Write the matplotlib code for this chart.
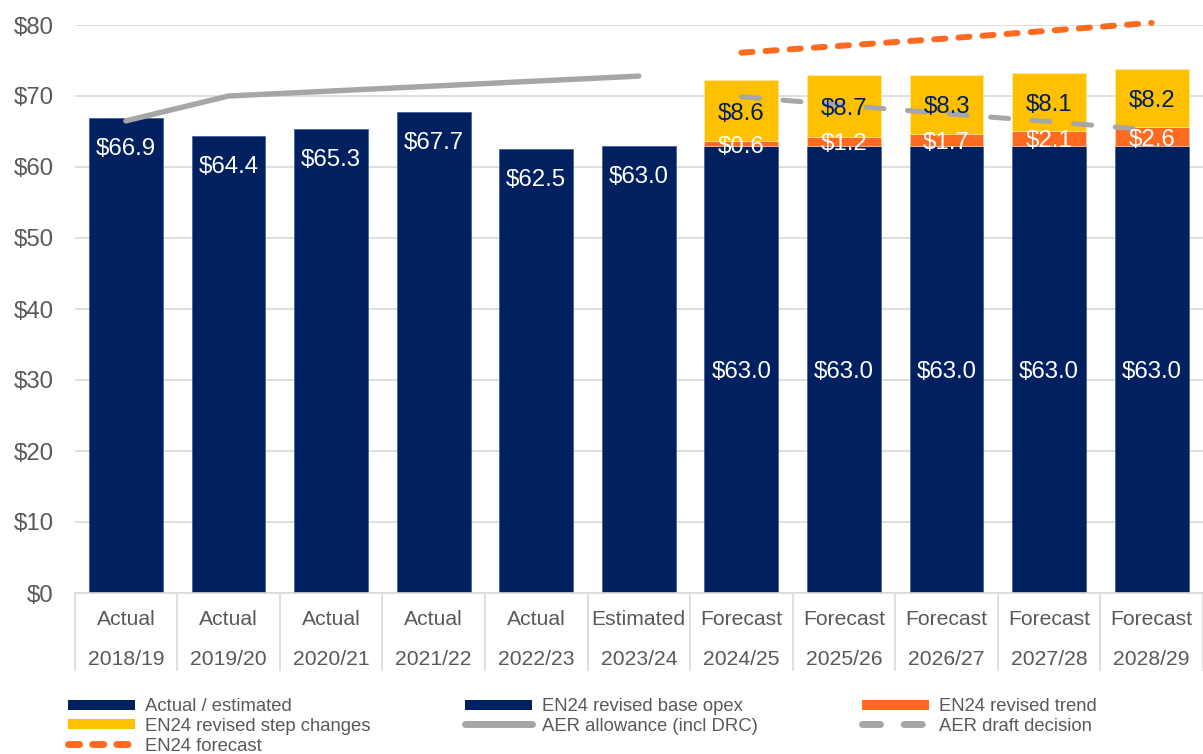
import matplotlib
matplotlib.use("Agg")
import matplotlib.pyplot as plt
from matplotlib.lines import Line2D
import numpy as np

plt.rcParams["font.family"] = ["Liberation Sans", "DejaVu Sans"]
plt.rcParams["lines.scale_dashes"] = False

# ---- data ($m) ----
kinds = ["Actual", "Actual", "Actual", "Actual", "Actual", "Estimated",
         "Forecast", "Forecast", "Forecast", "Forecast", "Forecast"]
years = ["2018/19", "2019/20", "2020/21", "2021/22", "2022/23", "2023/24",
         "2024/25", "2025/26", "2026/27", "2027/28", "2028/29"]
actual_estimated = [66.9, 64.4, 65.3, 67.7, 62.5, 63.0]
base_opex = [63.0, 63.0, 63.0, 63.0, 63.0]
revised_trend = [0.6, 1.2, 1.7, 2.1, 2.6]
step_changes = [8.6, 8.7, 8.3, 8.1, 8.2]
aer_allowance = [66.5, 70.0, 70.7, 71.4, 72.1, 72.8]
aer_draft = [69.9, 68.7, 67.5, 66.4, 65.2]
en24_forecast = [76.1, 77.1, 78.1, 79.2, 80.3]

NAVY = "#002060"
ORANGE = "#FF6A21"
YELLOW = "#FFC000"
GREY = "#A6A6A6"
TEXT = "#595959"
GRID = "#D9D9D9"

fig = plt.figure(figsize=(12.03, 7.54), dpi=100)
ax = fig.add_axes([74.6 / 1203, 1 - 593 / 754, 1 - 74.6 / 1203, (593 - 25) / 754])

x = np.arange(len(years))
xa = x[:len(actual_estimated)]
xf = x[len(actual_estimated):]
w = 0.72

ax.bar(xa, actual_estimated, w, color=NAVY, edgecolor="#3A5A99", linewidth=0.5, zorder=2)
ax.bar(xf, base_opex, w, color=NAVY, edgecolor="#3A5A99", linewidth=0.5, zorder=2)
ax.bar(xf, revised_trend, w, bottom=base_opex, color=ORANGE, edgecolor="#FFD0B0",
       linewidth=0.5, zorder=2)
step_bottom = np.array(base_opex) + np.array(revised_trend)
ax.bar(xf, step_changes, w, bottom=step_bottom, color=YELLOW, edgecolor="#FFE8A0",
       linewidth=0.5, zorder=2)

# lines
ax.plot(xa, aer_allowance, color=GREY, lw=3.9, solid_capstyle="round", zorder=3,
        clip_on=False)
ax.plot(xf, aer_draft, color=GREY, lw=3.6, dashes=(13, 17), dash_capstyle="round",
        zorder=3, clip_on=False)
ax.plot(xf, en24_forecast, color=ORANGE, lw=4.3, dashes=(8, 9.4), dash_capstyle="round",
        zorder=3, clip_on=False)

# value labels (nudged slightly below the nominal position)
lab_fs = 17.3
nudge = -2.2
for xi, v in zip(xa, actual_estimated):
    ax.annotate(f"${v:.1f}", (xi, v), xytext=(0, -20 + nudge), textcoords="offset points",
                ha="center", va="center", color="white", fontsize=lab_fs, zorder=4)
for xi, b, t, s in zip(xf, base_opex, revised_trend, step_changes):
    ax.annotate(f"${b:.1f}", (xi, b / 2), xytext=(0, nudge), textcoords="offset points",
                ha="center", va="center", color="white", fontsize=lab_fs, zorder=4)
    ax.annotate(f"${t:.1f}", (xi, b + t / 2), xytext=(0, nudge), textcoords="offset points",
                ha="center", va="center", color="white", fontsize=lab_fs, zorder=4)
    ax.annotate(f"${s:.1f}", (xi, b + t + s / 2), xytext=(0, nudge),
                textcoords="offset points", ha="center", va="center", color=NAVY,
                fontsize=lab_fs, zorder=4)

# axes styling
ax.set_xlim(-0.5, len(years) - 0.5)
ax.set_ylim(0, 80)
ax.set_yticks(np.arange(0, 81, 10))
ax.set_yticklabels([f"${t}" for t in range(0, 81, 10)])
ax.tick_params(axis="y", length=0, pad=15, labelsize=17.3, labelcolor=TEXT)
ax.set_xticks([])
ax.grid(axis="y", color=GRID, lw=1.2, zorder=0)
ax.set_axisbelow(True)
for side in ["top", "right", "left"]:
    ax.spines[side].set_visible(False)
ax.spines["bottom"].set_color(GRID)
ax.spines["bottom"].set_linewidth(1.2)

# two-row category labels with separators
sep_depth = 77 / 568
for i in range(len(years) + 1):
    ax.plot([i - 0.5, i - 0.5], [0, -sep_depth], color=GRID, lw=1.2,
            transform=ax.get_xaxis_transform(), clip_on=False)
for xi, k, yr in zip(x, kinds, years):
    ax.annotate(k, (xi, 0), xycoords=("data", "axes fraction"), xytext=(0, -19.3),
                textcoords="offset points", ha="center", va="center", fontsize=15.2,
                color=TEXT)
    ax.annotate(yr, (xi, 0), xycoords=("data", "axes fraction"), xytext=(0, -47.6),
                textcoords="offset points", ha="center", va="center", fontsize=15.2,
                color=TEXT)

# legend in three columns
h_actual = Line2D([], [], color=NAVY, lw=7.2, solid_capstyle="butt")
h_base = Line2D([], [], color=NAVY, lw=7.2, solid_capstyle="butt")
h_trend = Line2D([], [], color=ORANGE, lw=7.2, solid_capstyle="butt")
h_step = Line2D([], [], color=YELLOW, lw=7.2, solid_capstyle="butt")
h_allow = Line2D([], [], color=GREY, lw=5, solid_capstyle="round")
h_draft = Line2D([], [], color=GREY, lw=5, dashes=(13, 17), dash_capstyle="round")
h_fc = Line2D([], [], color=ORANGE, lw=5, dashes=(8, 9.4), dash_capstyle="round")

leg_cols = [
    (68, [h_actual, h_step, h_fc],
     ["Actual / estimated", "EN24 revised step changes", "EN24 forecast"]),
    (465, [h_base, h_allow], ["EN24 revised base opex", "AER allowance (incl DRC)"]),
    (862, [h_trend, h_draft], ["EN24 revised trend", "AER draft decision"]),
]
for px, hs, ls in leg_cols:
    fig.legend(hs, ls, loc="upper left", bbox_to_anchor=(px / 1203, 1 - 698 / 754),
               frameon=False, borderpad=0, borderaxespad=0, fontsize=13.3,
               handlelength=3.62, handletextpad=0.54, labelspacing=0.16,
               labelcolor=TEXT)

fig.savefig("out.png", dpi=100)
